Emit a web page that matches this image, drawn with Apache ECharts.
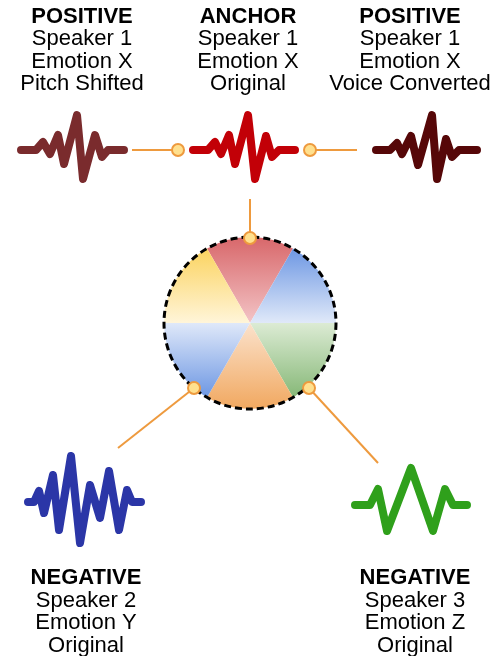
<!DOCTYPE html>
<html>
<head>
<meta charset="utf-8">
<script src="https://cdn.jsdelivr.net/npm/echarts@6/dist/echarts.min.js"></script>
<style>html,body{margin:0;padding:0;background:#fff}#c{width:500px;height:656px}</style>
</head>
<body>
<div id="c"></div>
<script>
// ---- data ----
const roles = ['POSITIVE', 'ANCHOR', 'POSITIVE', 'NEGATIVE', 'NEGATIVE'];
const speakers = ['Speaker 1', 'Speaker 1', 'Speaker 1', 'Speaker 2', 'Speaker 3'];
const emotions = ['Emotion X', 'Emotion X', 'Emotion X', 'Emotion Y', 'Emotion Z'];
const variants = ['Pitch Shifted', 'Original', 'Voice Converted', 'Original', 'Original'];

const wavePitch = [[21,150],[36,150],[43,142],[50,154],[58,135],[64,164],[77,115],[83,179],[95,135],[102,157],[108,150],[124,150]];
const waveAnchor = [[193,150],[208,150],[215,142],[221,154],[229,135],[235,164],[248,115],[255,179],[266,136],[272,157],[279,150],[295,150]];
const waveVC = [[376,150],[390,150],[397,143],[402,154],[411,136],[418,165],[432,115],[437,179],[446,139],[452,157],[459,150],[477,150]];
const waveSpk2 = [[28,502],[34,502],[39,491],[44,513],[53,475],[59,530],[71,456],[80,543],[90,485],[100,518],[109,471],[119,530],[127,490],[132,502],[141,502]];
const waveSpk3 = [[355,505],[370,505],[378,489],[387,531],[411,468],[433,531],[445,489],[453,505],[467,505]];

const linkPitch = [[132,150],[178,150]];
const linkVC = [[310,150],[357,150]];
const linkAnchor = [[250,199],[250,238]];
const linkSpk2 = [[194,388],[118,448]];
const linkSpk3 = [[309,388],[378,463]];
const joints = [[178,150],[310,150],[250,238],[194,388],[309,388]];

const emotionSectors = ['red', 'blue', 'green', 'orange', 'blue2', 'yellow'];
const sectorValues = [1, 1, 1, 1, 1, 1];

// ---- layout ----
const labelAnchors = [[82,50.5],[248,50.5],[410,50.5],[86,612],[415,612]];
const wheelCenter = [250,323];
const wheelRadius = 86;

const FONT = 'Liberation Sans, Arial, sans-serif';
const ORANGE = '#ee9a3e';

function grad(top, bottom) {
  return new echarts.graphic.LinearGradient(0, 0, 0, 1, [
    { offset: 0, color: top }, { offset: 1, color: bottom }
  ]);
}
const sectorColors = {
  red: grad('#d8676a', '#f3c4c6'),
  blue: grad('#6d97e3', '#e0e9f9'),
  green: grad('#dcebd4', '#86b877'),
  orange: grad('#fbe2cc', '#f1a860'),
  blue2: grad('#dfe8f9', '#6d97e3'),
  yellow: grad('#fbd35f', '#fff5d9')
};

function wave(data, color) {
  return {
    type: 'line', data: data, symbol: 'none', silent: true, z: 3,
    lineStyle: { color: color, width: 8, cap: 'round', join: 'round' }
  };
}
function link(data) {
  return {
    type: 'line', data: data, symbol: 'none', silent: true, z: 2,
    lineStyle: { color: ORANGE, width: 2 }
  };
}

const chart = echarts.init(document.getElementById('c'), null, { renderer: 'canvas' });
chart.setOption({
  animation: false,
  backgroundColor: '#ffffff',
  grid: { left: 0, right: 0, top: 0, bottom: 0 },
  xAxis: { type: 'value', min: 0, max: 500, show: false },
  yAxis: { type: 'value', min: 0, max: 656, inverse: true, show: false },
  series: [
    {
      type: 'pie', center: wheelCenter, radius: [0, wheelRadius],
      startAngle: 120, clockwise: true, silent: true, z: 1,
      label: { show: false }, labelLine: { show: false },
      data: emotionSectors.map((n, i) => ({
        name: n, value: sectorValues[i], itemStyle: { color: sectorColors[n] }
      }))
    },
    {
      type: 'scatter', data: [wheelCenter], symbol: 'circle', symbolSize: wheelRadius * 2,
      silent: true, z: 2,
      itemStyle: { color: 'rgba(0,0,0,0)', opacity: 1, borderColor: '#000', borderWidth: 3, borderType: [7, 4] }
    },
    link(linkPitch), link(linkVC), link(linkAnchor), link(linkSpk2), link(linkSpk3),
    wave(wavePitch, '#7a2b2d'),
    wave(waveAnchor, '#c20007'),
    wave(waveVC, '#560708'),
    wave(waveSpk2, '#2b36a7'),
    wave(waveSpk3, '#2fa01b'),
    {
      type: 'scatter', data: joints, symbol: 'circle', symbolSize: 12, silent: true, z: 5,
      itemStyle: { color: '#ffe08e', opacity: 1, borderColor: ORANGE, borderWidth: 2 }
    },
    {
      type: 'scatter', symbolSize: 1, silent: true, z: 6,
      itemStyle: { color: 'rgba(0,0,0,0)', opacity: 1 },
      data: labelAnchors.map((p, i) => ({ value: p, name: String(i) })),
      label: {
        show: true, position: 'inside', align: 'center', verticalAlign: 'middle',
        color: '#000', textBorderWidth: 0, opacity: 1,
        formatter: (p) => {
          const i = p.dataIndex;
          return '{h|' + roles[i] + '}\n{t|' + speakers[i] + '}\n{t|' + emotions[i] + '}\n{t|' + variants[i] + '}';
        },
        rich: {
          h: { fontFamily: FONT, fontSize: 22, fontWeight: 'bold', lineHeight: 22.4, color: '#000', textBorderWidth: 0, align: 'center' },
          t: { fontFamily: FONT, fontSize: 22, lineHeight: 22.4, color: '#000', textBorderWidth: 0, align: 'center' }
        }
      }
    }
  ]
});
</script>
</body>
</html>
